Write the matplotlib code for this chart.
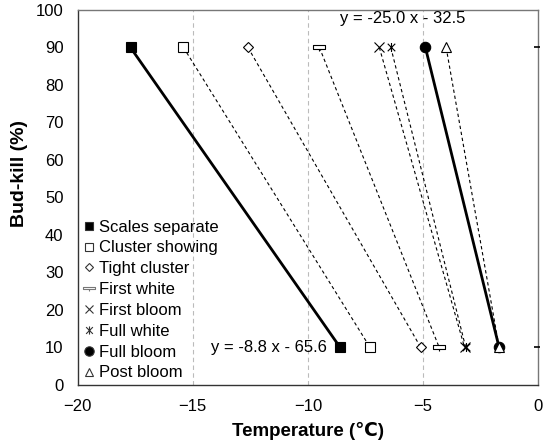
import numpy as np
import matplotlib
matplotlib.use("Agg")
import matplotlib.pyplot as plt
from matplotlib.path import Path

plt.rcParams['font.family'] = ['Liberation Sans', 'DejaVu Sans']

stages = ['Scales separate', 'Cluster showing', 'Tight cluster', 'First white',
          'First bloom', 'Full white', 'Full bloom', 'Post bloom']
temp_at_90 = [-17.7, -15.4, -12.6, -9.5, -6.9, -6.4, -4.9, -4.0]
temp_at_10 = [-8.6, -7.3, -5.1, -4.3, -3.2, -3.15, -1.7, -1.7]
kill_levels = [90, 10]

# custom markers
xbar = Path([(-1, -1), (1, 1), (-1, 1), (1, -1), (0, -1.2), (0, 1.2)],
            [Path.MOVETO, Path.LINETO, Path.MOVETO, Path.LINETO, Path.MOVETO, Path.LINETO])
flat = Path([(-1, -0.25), (1, -0.25), (1, 0.25), (-1, 0.25), (-1, -0.25), (0, -0.25), (0, -0.6)],
            [Path.MOVETO, Path.LINETO, Path.LINETO, Path.LINETO, Path.CLOSEPOLY, Path.MOVETO, Path.LINETO])

styles = [
    dict(marker='s', ms=7, mfc='black', ls='-', lw=2.0),
    dict(marker='s', ms=6.5, mfc='white', ls='--', lw=0.8),
    dict(marker='D', ms=5, mfc='white', ls='--', lw=0.8),
    dict(marker=flat, ms=9, mfc='white', ls='--', lw=0.8),
    dict(marker='x', ms=6.5, mfc='none', ls='--', lw=0.8),
    dict(marker=xbar, ms=6.5, mfc='none', ls='--', lw=0.8),
    dict(marker='o', ms=7.5, mfc='black', ls='-', lw=2.0),
    dict(marker='^', ms=6.5, mfc='white', ls='--', lw=0.8),
]

fig = plt.figure(figsize=(5.47, 4.44), dpi=100)
ax = fig.add_axes([0.1417, 0.1329, 0.8424, 0.8446])

for xv in [-15, -10, -5]:
    ax.axvline(xv, color='#bbbbbb', lw=0.8, ls=(0, (4, 3)), zorder=0)

handles = []
for name, t90, t10, st in zip(stages, temp_at_90, temp_at_10, styles):
    ls = st['ls']
    dashes = (0, (3, 2.5)) if ls == '--' else '-'
    ax.plot([t90, t10], kill_levels, color='black', lw=st['lw'], ls=dashes,
            marker=st['marker'], ms=st['ms'], mfc=st['mfc'], mec='black',
            mew=0.8, zorder=3)
    h, = ax.plot([], [], ls='none', marker=st['marker'], ms=st['ms'] * 0.9,
                 mfc=st['mfc'], mec='#333333' if name != 'First white' else '#777777',
                 mew=0.8, label=name)
    handles.append(h)

# small ticks on the right axis
ax.plot([-0.05, -0.05], kill_levels, ls='none', marker='_', ms=5, mew=1.2,
        color='black', clip_on=False, zorder=4)

ax.text(-5.9, 97.7, 'y = -25.0 x - 32.5', ha='center', va='center', fontsize=12)
ax.text(-11.7, 10, 'y = -8.8 x - 65.6', ha='center', va='center', fontsize=12)

ax.set_xlim(-20, 0)
ax.set_ylim(0, 100)
ax.set_xticks(np.arange(-20, 1, 5))
ax.set_yticks(np.arange(0, 101, 10))
ax.tick_params(length=0, labelsize=12)
ax.tick_params(axis='x', pad=10)
ax.tick_params(axis='y', pad=10)
for s in ax.spines.values():
    s.set_color('#777777')
    s.set_linewidth(1.0)
ax.spines['left'].set_color('#333333')
ax.spines['bottom'].set_color('#333333')

ax.set_xlabel('Temperature (℃)', fontsize=13.5, fontweight='bold', labelpad=6)
ax.set_ylabel('Bud-kill (%)', fontsize=14, fontweight='bold')
ax.yaxis.set_label_coords(-0.107, 0.564)

ax.legend(handles=handles, loc='lower left', bbox_to_anchor=(0.012, 0.012),
          frameon=False, fontsize=12, handlelength=0.7, handletextpad=0.25,
          labelspacing=0.35, borderaxespad=0, borderpad=0)

fig.savefig('out.png', dpi=100)
